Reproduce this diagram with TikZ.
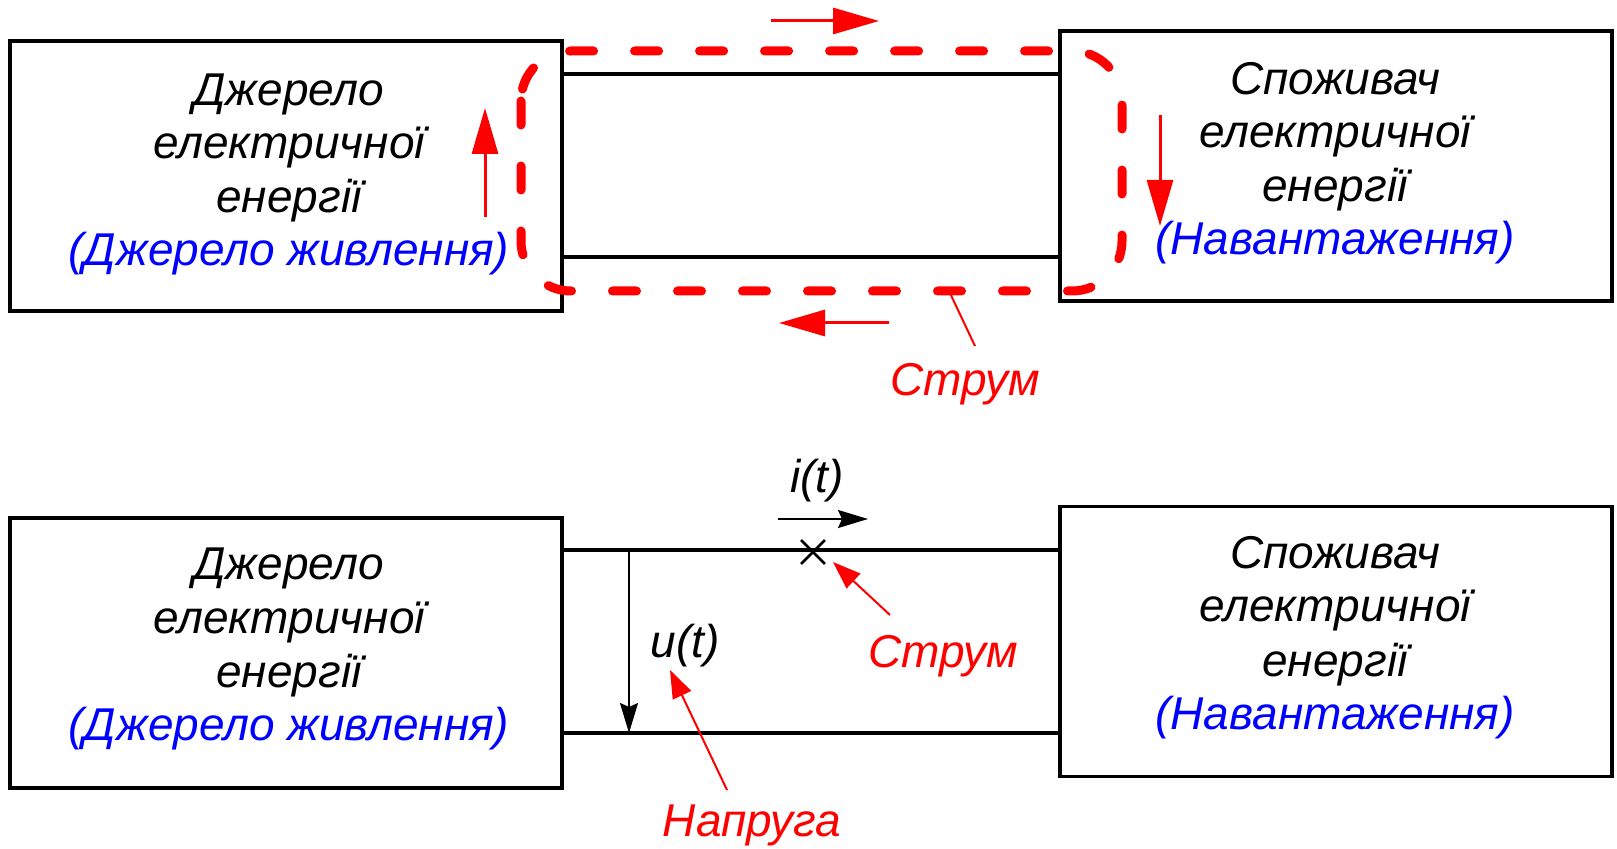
\documentclass[tikz,border=0pt]{standalone}
\usepackage{fontspec}
\setmainfont{Liberation Sans}
\usetikzlibrary{arrows.meta,shapes.misc}
\definecolor{rd}{RGB}{255,0,0}
\definecolor{bl}{RGB}{0,0,255}
\begin{document}
\begin{tikzpicture}[x=0.5pt,y=-0.5pt,
  box/.style={draw,line width=1.8pt,minimum width=276pt,minimum height=135pt,inner sep=0pt},
  wire/.style={line width=1.6pt},
  txt/.style={font=\fontsize{23}{26}\selectfont\itshape,anchor=base,inner sep=0pt},
  bluetxt/.style={txt,text=bl},
  redtxt/.style={txt,text=rd},
  loopst/.style={draw=rd,line width=4.5pt,dash pattern=on 12pt off 20.5pt,line cap=round,rounded corners=25pt},
  redbig/.style={draw=rd,line width=1.5pt,-{Triangle[length=23pt,width=13pt]}},
  redlead/.style={draw=rd,line width=1pt,-{Triangle[length=14pt,width=10pt]}},
  redline/.style={draw=rd,line width=1pt},
  blkarr/.style={draw=black,line width=0.9pt,-{Stealth[length=15pt,width=9pt,inset=2pt]}}
]
\useasboundingbox (0,0) rectangle (1617,849);

% ---------- top diagram ----------
\node[box] (srcA) at (286,176) {};
\node[box] (ldA) at (1336,166) {};
\draw[wire] (srcA.east |- 0,74) -- (ldA.west |- 0,74);
\draw[wire] (srcA.east |- 0,257) -- (ldA.west |- 0,257);

\node[txt] (a1) at (289,106) {Джерело};
\node[txt] (a2) at (289,159) {електричної};
\node[txt] (a3) at (289,213) {енергії};
\node[bluetxt] (a4) at (289,266) {(Джерело живлення)};

\node[txt] (b1) at (1335,95) {Споживач};
\node[txt] (b2) at (1335,148) {електричної};
\node[txt] (b3) at (1335,202) {енергії};
\node[bluetxt] (b4) at (1335,255) {(Навантаження)};

\path[loopst] (521,51) rectangle (1122,291);

\coordinate (ta1) at (771,21);  \coordinate (ta2) at (879,21);
\coordinate (ba1) at (889,323); \coordinate (ba2) at (779,323);
\coordinate (la1) at (485,217); \coordinate (la2) at (485,108);
\coordinate (ra1) at (1160,115); \coordinate (ra2) at (1160,226);
\draw[redbig] (ta1) -- (ta2);
\draw[redbig] (ba1) -- (ba2);
\draw[redbig] (la1) -- (la2);
\draw[redbig] (ra1) -- (ra2);

\node[redtxt] (strA) at (965,396) {Струм};
\coordinate (strAp) at (949,291);
\draw[redline] (975,346) coordinate (strAt) -- (strAp);

% ---------- bottom diagram ----------
\node[box] (srcB) at (286,653) {};
\node[box] (ldB) at (1336,641.5) {};
\draw[wire] (srcB.east |- 0,550) -- (ldB.west |- 0,550);
\draw[wire] (srcB.east |- 0,733) -- (ldB.west |- 0,733);

\node[txt] (c1) at (289,580) {Джерело};
\node[txt] (c2) at (289,633) {електричної};
\node[txt] (c3) at (289,687) {енергії};
\node[bluetxt] (c4) at (289,740) {(Джерело живлення)};

\node[txt] (d1) at (1335,569) {Споживач};
\node[txt] (d2) at (1335,622) {електричної};
\node[txt] (d3) at (1335,676) {енергії};
\node[bluetxt] (d4) at (1335,729) {(Навантаження)};

\coordinate (u1) at (629,550); \coordinate (u2) at (629,733);
\draw[blkarr] (u1) -- (u2);
\node[txt] (ut) at (685,657) {u(t)};

\coordinate (i1) at (778,519); \coordinate (i2) at (868,519);
\draw[blkarr] (i1) -- (i2);
\node[txt] (it) at (817,493) {i(t)};

\node[draw,cross out,line width=1.4pt,minimum size=10.5pt,inner sep=0pt] (cr) at (813,552) {};

\node[redtxt] (strB) at (943,668) {Струм};
\coordinate (strBt) at (890,615); \coordinate (strBp) at (833,562);
\draw[redlead] (strBt) -- (strBp);

\node[redtxt] (nap) at (752,836) {Напруга};
\coordinate (napt) at (727,790); \coordinate (napp) at (670,670);
\draw[redlead] (napt) -- (napp);
\end{tikzpicture}
\end{document}
